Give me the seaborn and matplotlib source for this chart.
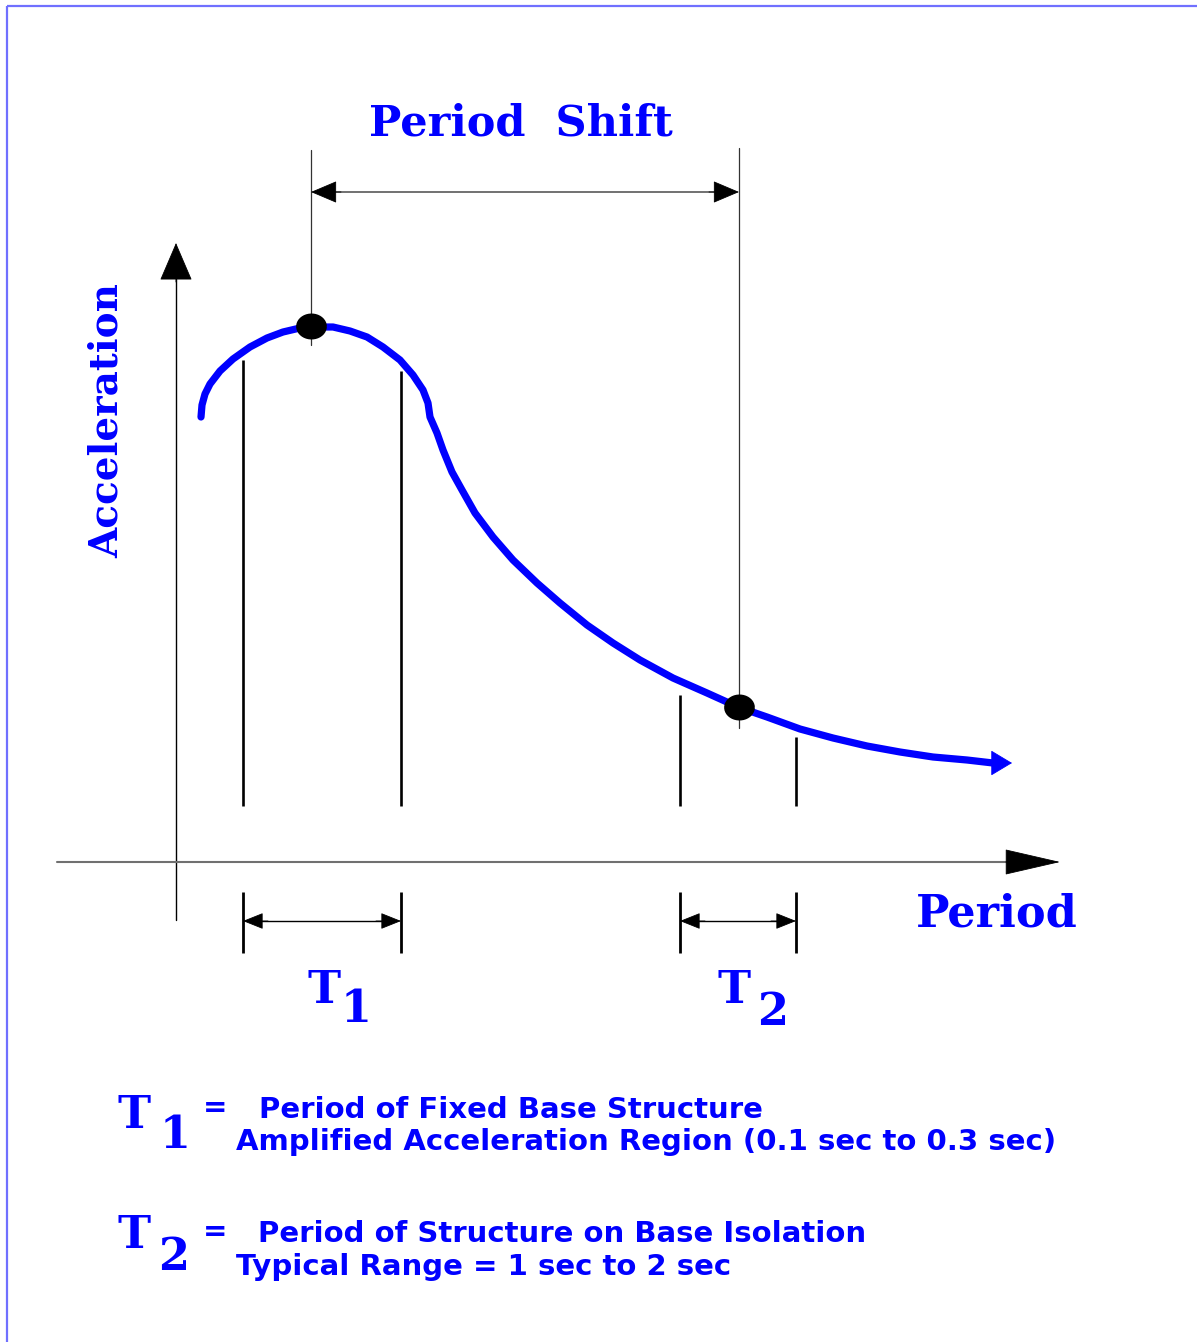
import numpy as np
import pandas as pd
import matplotlib
matplotlib.use("Agg")
import matplotlib.pyplot as plt
import seaborn as sns

# Response spectrum (schematic units: period along x, acceleration along y)
period = [0.25, 0.26, 0.29, 0.34, 0.44, 0.57, 0.74, 0.91, 1.07, 1.24, 1.35,
          1.57, 1.74, 1.91, 2.07, 2.24, 2.37, 2.47, 2.52, 2.54,
          2.61, 2.67, 2.76, 2.86, 2.99, 3.17, 3.37, 3.61, 3.84, 4.11,
          4.37, 4.64, 4.97, 5.31, 5.62, 5.91, 6.24, 6.57, 6.91, 7.24,
          7.57, 7.91, 8.17]
accel = [4.45, 4.57, 4.68, 4.78, 4.91, 5.03, 5.15, 5.24, 5.30, 5.34, 5.35,
         5.35, 5.31, 5.25, 5.15, 5.02, 4.87, 4.72, 4.59, 4.45,
         4.29, 4.12, 3.90, 3.72, 3.49, 3.25, 3.02, 2.79, 2.59, 2.37,
         2.19, 2.02, 1.84, 1.69, 1.55, 1.45, 1.33, 1.24, 1.16, 1.10,
         1.05, 1.02, 0.99]
curve_tip = (8.36, 0.99)

# Fixed-base and isolated periods marked on the spectrum
marker_period = [1.35, 5.63]
marker_accel = [5.36, 1.55]

# Period bands
t1_range = [0.67, 2.25]
t2_range = [5.04, 6.20]
band_tops = [5.02, 4.91, 1.67, 1.25]   # heights of the band lines
band_base = 0.56

BLUE = "#0000ff"
SERIF = ["DejaVu Serif"]
SANS = ["DejaVu Sans"]

sns.set_theme(style="white")

fig = plt.figure(figsize=(11.97, 13.42), dpi=100)
ax = fig.add_axes([0, 0, 1, 1])
ax.set_xlim(-1.76, 10.21)
ax.set_ylim(-4.80, 8.62)
ax.axis("off")

# frame edges
ax.plot([0.0058, 0.0058], [0, 0.9955], color="#7070ff", lw=1.6,
        transform=ax.transAxes, solid_capstyle="butt")
ax.plot([0.0058, 1.0], [0.9955, 0.9955], color="#7070ff", lw=1.6,
        transform=ax.transAxes, solid_capstyle="butt")


def head(tip, tail, length, width, color="black", ms=20):
    """Filled arrowhead pointing from tail to tip."""
    ax.annotate("", xy=tip, xytext=tail,
                arrowprops=dict(arrowstyle=f"-|>,head_length={length},head_width={width}",
                                mutation_scale=ms, lw=0.6, color=color,
                                shrinkA=0, shrinkB=0))


# coordinate axes with arrowheads
ax.plot([0, 0], [-0.58, 5.9], color="black", lw=1.0)
head((0, 6.19), (0, 5.80), 1.26, 0.54)
ax.plot([-1.19, 8.5], [0, 0], color="#707070", lw=1.5)
head((8.84, 0), (8.30, 0), 1.87, 0.43)

# vertical band lines under the curve
band_x = t1_range + t2_range
for x, top in zip(band_x, band_tops):
    ax.plot([x, x], [band_base, top], color="black", lw=1.9,
            solid_capstyle="butt")

# period-shift guide lines and span arrow
ax.plot([marker_period[0]] * 2, [5.17, 7.12], color="#333333", lw=0.9)
ax.plot([marker_period[1]] * 2, [1.34, 7.14], color="#333333", lw=0.9)
ax.plot([marker_period[0] + 0.1, marker_period[1] - 0.1], [6.70, 6.70],
        color="#666666", lw=1.3)
head((marker_period[0], 6.70), (marker_period[0] + 0.3, 6.70), 0.85, 0.36)
head((marker_period[1], 6.70), (marker_period[1] - 0.3, 6.70), 0.85, 0.36)

# spectrum curve
df = pd.DataFrame({"period": period, "accel": accel})
sns.lineplot(data=df, x="period", y="accel", sort=False, ax=ax,
             color=BLUE, lw=5.2, solid_capstyle="round", solid_joinstyle="round")
head(curve_tip, (period[-1], accel[-1]), 0.7, 0.42, color=BLUE)

# period points
ellipse = [(1.2 * np.cos(t), np.sin(t)) for t in np.linspace(0, 2 * np.pi, 40)]
mk = pd.DataFrame({"period": marker_period, "accel": marker_accel})
sns.scatterplot(data=mk, x="period", y="accel", ax=ax, marker=ellipse,
                s=420, color="black", edgecolor="black", zorder=5)

# T1 / T2 brackets below the axis
for lo, hi in (t1_range, t2_range):
    for x in (lo, hi):
        ax.plot([x, x], [-0.30, -0.91], color="black", lw=2.0,
                solid_capstyle="butt")
    ax.plot([lo + 0.1, hi - 0.1], [-0.59, -0.59], color="black", lw=1.0)
    head((lo, -0.59), (lo + 0.25, -0.59), 0.65, 0.26)
    head((hi, -0.59), (hi - 0.25, -0.59), 0.65, 0.26)

# titles and labels
ax.text(3.45, 7.26, "Period  Shift", family=SERIF, weight="bold", fontsize=31,
        color=BLUE, ha="center", va="baseline")
ax.text(-0.69, 4.41, "Acceleration", family=SERIF, weight="bold", fontsize=28,
        color=BLUE, ha="center", va="center", rotation=90)
ax.text(7.40, -0.65, "Period", family=SERIF, weight="bold", fontsize=32,
        color=BLUE, ha="left", va="baseline")


def t_label(x, y, sub, dx, dy, size=32):
    ax.text(x, y, "T", family=SERIF, weight="bold", fontsize=size,
            color=BLUE, ha="left", va="baseline")
    ax.text(x + dx, y - dy, sub, family=SERIF, weight="bold", fontsize=size,
            color=BLUE, ha="left", va="baseline")


t_label(1.31, -1.41, "1", 0.34, 0.19)
t_label(5.42, -1.41, "2", 0.39, 0.22)

# definitions
t_label(-0.58, -2.66, "1", 0.42, 0.20)
t_label(-0.58, -3.86, "2", 0.40, 0.22)

desc = dict(family=SANS, weight="bold", fontsize=21, color=BLUE,
            ha="left", va="baseline")
ax.text(0.39, -2.46, "=", family=SANS, weight="bold", fontsize=21,
        color=BLUE, ha="center", va="center")
ax.text(0.83, -2.56, "Period of Fixed Base Structure", **desc)
ax.text(0.60, -2.88, "Amplified Acceleration Region (0.1 sec to 0.3 sec)", **desc)
ax.text(0.39, -3.70, "=", family=SANS, weight="bold", fontsize=21,
        color=BLUE, ha="center", va="center")
ax.text(0.82, -3.80, "Period of Structure on Base Isolation", **desc)
ax.text(0.60, -4.13, "Typical Range = 1 sec to 2 sec", **desc)

fig.savefig("out.png", dpi=100)
